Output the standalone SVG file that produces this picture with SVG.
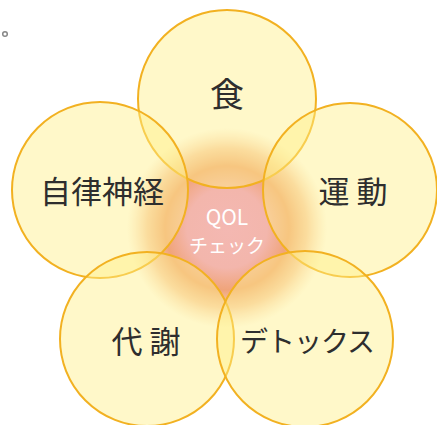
<svg xmlns="http://www.w3.org/2000/svg" width="437" height="425" viewBox="0 0 437 425">
  <defs>
    <radialGradient id="glow" cx="0.5" cy="0.5" r="0.5">
      <stop offset="0" stop-color="#F4B8B2"/>
      <stop offset="0.4" stop-color="#F3B6AC"/>
      <stop offset="0.62" stop-color="#F0A47A"/>
      <stop offset="0.8" stop-color="#F2AC7C" stop-opacity="0.6"/>
      <stop offset="1" stop-color="#F8C8A0" stop-opacity="0"/>
    </radialGradient>
  </defs>
  <style>
    .petal { fill: #FFF088; fill-opacity: 0.45; stroke: #F2B121; stroke-width: 2; }
    .label { font-family: "Noto Sans CJK JP", "Noto Sans", sans-serif; fill: #2E2E2E; text-anchor: middle; }
    .center { font-family: "Noto Sans CJK JP", "Noto Sans", sans-serif; fill: #FFFFFF; text-anchor: middle; }
  </style>
  <rect width="437" height="425" fill="#FFFFFF"/>
  <circle cx="5" cy="34" r="2.3" fill="none" stroke="#888888" stroke-width="1.5"/>
  <circle id="glow-center" cx="227" cy="228" r="100" fill="url(#glow)"/>
  <g id="node-shoku">
    <circle class="petal" cx="227" cy="99" r="89"/>
    <text class="label" x="227" y="107" font-size="34">食</text>
  </g>
  <g id="node-jiritsu">
    <circle class="petal" cx="100" cy="190" r="88"/>
    <text class="label" x="102" y="203" font-size="31">自律神経</text>
  </g>
  <g id="node-undo">
    <circle class="petal" cx="350" cy="190" r="87"/>
    <text class="label" x="353" y="203" font-size="31" xml:space="preserve">運 動</text>
  </g>
  <g id="node-taisha">
    <circle class="petal" cx="147" cy="339" r="87"/>
    <text class="label" x="146" y="353" font-size="31" xml:space="preserve">代 謝</text>
  </g>
  <g id="node-detox">
    <circle class="petal" cx="305" cy="339" r="88"/>
    <text class="label" x="307" y="352" font-size="28" letter-spacing="-1">デトックス</text>
  </g>
  <g id="node-qol">
    <text class="center" x="227" y="225" font-size="21">QOL</text>
    <text class="center" x="227" y="253" font-size="19">チェック</text>
  </g>
  <g id="connectors"/>
</svg>
